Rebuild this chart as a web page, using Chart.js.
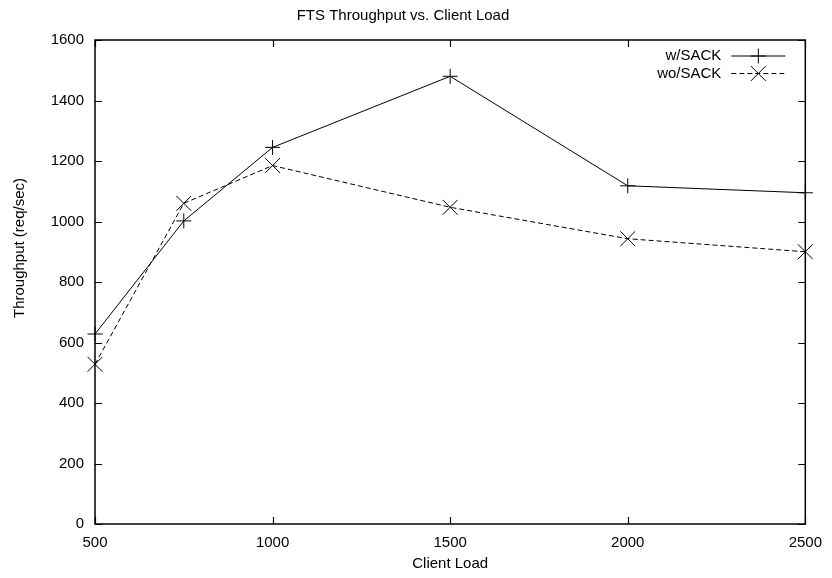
<!DOCTYPE html>
<html>
<head>
<meta charset="utf-8">
<script src="https://cdn.jsdelivr.net/npm/chart.js@4"></script>
<style>
  html, body { margin: 0; padding: 0; background: #fff; }
  #wrap { width: 832px; height: 578px; }
</style>
</head>
<body>
<div id="wrap"><canvas id="chart-fts"></canvas></div>
<script>
  // ===== data =====
  const clientLoad = [500, 750, 1000, 1500, 2000, 2500];
  const withSack = [628, 1002, 1245, 1480, 1118, 1095];
  const withoutSack = [528, 1060, 1185, 1047, 943, 900];

  const xTicks = [500, 1000, 1500, 2000, 2500];
  const yTicks = [0, 200, 400, 600, 800, 1000, 1200, 1400, 1600];

  const FONT = 'Liberation Sans, Arial, Helvetica, sans-serif';

  const toPoints = ys => clientLoad.map((x, i) => ({ x, y: ys[i] }));

  // gnuplot style frame: border + inward ticks on all four sides, key top right, y label
  const gnuplotFrame = {
    id: 'gnuplotFrame',
    afterDatasetsDraw(chart) {
      const { ctx, chartArea: a, scales: { x, y } } = chart;
      ctx.save();
      ctx.strokeStyle = '#000';
      ctx.lineWidth = 1.5;
      ctx.strokeRect(a.left, a.top, a.right - a.left, a.bottom - a.top);

      ctx.beginPath();
      const tl = 7;
      xTicks.forEach(v => {
        let px = Math.round(x.getPixelForValue(v)) + 0.5;
        ctx.moveTo(px, a.bottom); ctx.lineTo(px, a.bottom - tl);
        ctx.moveTo(px, a.top); ctx.lineTo(px, a.top + tl);
      });
      yTicks.forEach(v => {
        let py = Math.round(y.getPixelForValue(v)) + 0.5;
        ctx.moveTo(a.left, py); ctx.lineTo(a.left + tl, py);
        ctx.moveTo(a.right, py); ctx.lineTo(a.right - tl, py);
      });
      ctx.lineWidth = 1.2;
      ctx.stroke();

      // key
      ctx.font = '15px ' + FONT;
      ctx.fillStyle = '#000';
      ctx.textAlign = 'right';
      ctx.textBaseline = 'middle';
      chart.data.datasets.forEach((ds, i) => {
        let ky = a.top + 16 + i * 17.5;
        ctx.fillText(ds.label, a.right - 84, ky);
        ctx.beginPath();
        ctx.setLineDash(ds.borderDash || []);
        ctx.lineWidth = 1;
        ctx.moveTo(a.right - 74, ky);
        ctx.lineTo(a.right - 20, ky);
        ctx.stroke();
        ctx.setLineDash([]);
        Chart.helpers.drawPoint(ctx, {
          pointStyle: ds.pointStyle,
          radius: ds.pointRadius,
          borderWidth: 1
        }, a.right - 47, ky);
      });

      // y axis label
      ctx.save();
      ctx.translate(20, 248);
      ctx.rotate(-Math.PI / 2);
      ctx.textAlign = 'center';
      ctx.fillText('Throughput (req/sec)', 0, 0);
      ctx.restore();

      ctx.restore();
    }
  };

  let ctxFts = document.getElementById('chart-fts').getContext('2d');

  let chartFts = new Chart(ctxFts, {
    type: 'line',
    data: {
      datasets: [{
        label: 'w/SACK',
        data: toPoints(withSack),
        borderColor: '#000',
        borderWidth: 1,
        pointStyle: 'cross',
        pointRadius: 7.5,
        pointBorderColor: '#000',
        pointBorderWidth: 1,
        fill: false,
        clip: false,
        tension: 0
      }, {
        label: 'wo/SACK',
        data: toPoints(withoutSack),
        borderColor: '#000',
        borderWidth: 1,
        borderDash: [5, 3],
        pointStyle: 'crossRot',
        pointRadius: 10.5,
        pointBorderColor: '#000',
        pointBorderWidth: 1,
        fill: false,
        clip: false,
        tension: 0
      }]
    },
    options: {
      responsive: true,
      maintainAspectRatio: false,
      animation: false,
      events: [],
      layout: { padding: { left: 0, right: 26, top: 0, bottom: 0 } },
      plugins: {
        legend: { display: false },
        tooltip: { enabled: false },
        title: {
          display: true,
          text: 'FTS Throughput vs. Client Load',
          color: '#000',
          font: { family: FONT, size: 15, weight: 'normal' },
          padding: { top: 7, bottom: 15 }
        }
      },
      scales: {
        x: {
          type: 'linear',
          min: 500, max: 2500,
          afterBuildTicks: s => { s.ticks = xTicks.map(v => ({ value: v })); },
          afterFit: s => { s.height = 54; },
          grid: { display: false, drawTicks: false },
          border: { display: false },
          ticks: {
            color: '#000',
            font: { family: FONT, size: 15 },
            padding: 10,
            maxRotation: 0,
            callback: v => String(v)
          },
          title: {
            display: true,
            text: 'Client Load',
            color: '#000',
            font: { family: FONT, size: 15 },
            padding: { top: 0, bottom: 5 }
          }
        },
        y: {
          min: 0, max: 1600,
          afterBuildTicks: s => { s.ticks = yTicks.map(v => ({ value: v })); },
          afterFit: s => { s.width = 95; },
          grid: { display: false, drawTicks: false },
          border: { display: false },
          ticks: {
            color: '#000',
            font: { family: FONT, size: 15 },
            padding: 11,
            callback: v => String(v)
          }
        }
      }
    },
    plugins: [gnuplotFrame]
  });
</script>
</body>
</html>
